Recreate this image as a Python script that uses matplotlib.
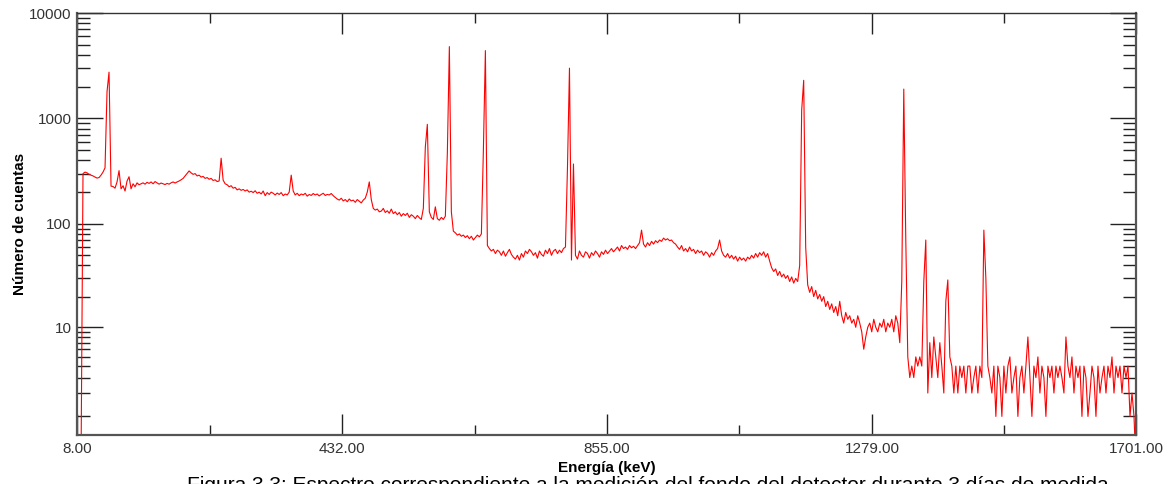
import numpy as np
import matplotlib
matplotlib.use("Agg")
import matplotlib.pyplot as plt

# energy calibration of the first / last channel (keV)
e_start, e_stop = 8.0, 1701.0

# counts per channel (channel width ~3.2 keV)
counts_a = [
    0, 0, 0, 300, 310, 305, 295, 290, 285, 278,
    272, 275, 290, 310, 340, 1800, 2750, 228, 226, 218,
    250, 320, 215, 230, 205, 255, 280, 215, 240, 225,
    245, 235, 240, 245, 238, 248, 242, 250, 240, 252,
    245, 238, 244, 240, 236, 242, 238, 245, 250, 244,
    250, 255, 262, 270, 285, 300, 318, 305, 295, 300,
    285, 290, 278, 282, 270, 275, 265, 270, 258, 262,
    252, 255, 420, 260, 240, 235, 225, 230, 218, 222,
    210, 215, 208, 212, 205, 210, 200, 204, 198, 206,
    195, 200, 192, 205, 185, 198, 190, 200, 195, 188,
]
counts_b = [
    196, 190, 198, 185, 192, 188, 200, 290, 205, 188,
    195, 185, 192, 188, 195, 183, 190, 186, 194, 188,
    192, 184, 190, 195, 186, 190, 188, 194, 185, 178,
    172, 168, 175, 165, 170, 162, 172, 165, 168, 160,
    170, 164, 158, 168, 175, 200, 250, 170, 140, 135,
    138, 130, 132, 140, 128, 133, 126, 138, 125, 130,
    122, 128, 118, 125, 120, 126, 115, 122, 118, 112,
    120, 114, 110, 140, 535, 880, 130, 115, 110, 145,
    112, 108, 115, 110, 118, 470, 4800, 130, 85, 82,
    78, 80, 76, 78, 74, 77, 72, 76, 70, 74,
]
counts_c = [
    78, 75, 80, 500, 4400, 62, 58, 55, 57, 52,
    56, 54, 50, 55, 49, 53, 57, 51, 48, 46,
    50, 45, 52, 48, 55, 52, 57, 54, 50, 53,
    47, 55, 51, 49, 56, 52, 58, 50, 55, 57,
    52, 56, 53, 58, 60, 340, 3000, 45, 370, 50,
    46, 55, 50, 48, 54, 52, 47, 53, 50, 55,
    52, 48, 54, 51, 56, 52, 55, 58, 54, 57,
    60, 55, 62, 58, 60, 57, 62, 59, 61, 58,
    62, 66, 87, 64, 60, 66, 62, 68, 64, 69,
    66, 70, 68, 73, 70, 72, 69, 70, 66, 64,
]
counts_d = [
    60, 57, 62, 55, 58, 54, 60, 55, 57, 52,
    56, 53, 55, 50, 54, 52, 48, 53, 50, 55,
    58, 70, 55, 50, 48, 52, 47, 50, 46, 49,
    44, 48, 45, 47, 44, 48, 46, 50, 47, 52,
    48, 53, 50, 54, 48, 52, 44, 38, 35, 37,
    32, 35, 31, 33, 30, 32, 28, 31, 27, 30,
    28, 40, 1200, 2300, 60, 26, 22, 25, 20, 23,
    19, 21, 18, 20, 16, 18, 15, 17, 14, 16,
    13, 18, 13, 11, 14, 12, 13, 11, 12, 10,
    13, 11, 9, 6, 8, 10, 11, 9, 12, 10,
]
counts_e = [
    9, 11, 10, 12, 9, 11, 10, 12, 9, 13,
    11, 7, 28, 1900, 70, 5, 3, 4, 3, 5,
    4, 5, 4, 28, 70, 2, 7, 3, 8, 5,
    3, 7, 4, 2, 18, 29, 5, 4, 2, 4,
    2, 4, 3, 4, 2, 4, 4, 2, 3, 4,
    2, 4, 3, 87, 30, 4, 3, 2, 4, 1,
    4, 3, 1, 4, 2, 4, 5, 2, 3, 4,
    1, 3, 4, 2, 4, 8, 3, 1, 4, 3,
    5, 2, 4, 3, 1, 4, 3, 4, 2, 4,
    3, 4, 3, 2, 8, 4, 3, 5, 2, 4,
    3, 4, 1, 4, 3, 1, 2, 4, 3, 1,
    4, 2, 3, 4, 2, 4, 3, 5, 2, 4,
    3, 4, 2, 4, 3, 4, 1, 2, 1, 0,
]

x_ticks = [8.0, 432.0, 855.0, 1279.0, 1701.0]
x_tick_labels = ["8.00", "432.00", "855.00", "1279.00", "1701.00"]
x_minor_ticks = [220.0, 643.5, 1067.0, 1490.0]
y_ticks = [10, 100, 1000, 10000]
y_tick_labels = ["10", "100", "1000", "10000"]
y_minor_ticks = [m * d for d in (1, 10, 100, 1000) for m in range(2, 10)] + [1]

counts = np.array(counts_a + counts_b + counts_c + counts_d + counts_e, dtype=float)
energy = np.linspace(e_start, e_stop, len(counts))

plt.rcParams["font.family"] = ["Liberation Sans", "DejaVu Sans"]


# the software draws log10(counts + 0.5), so zero-count channels sit just off the axis
def fwd(y):
    return np.log10(np.clip(y, 0, None) + 0.5)


def inv(t):
    return 10.0 ** t - 0.5


fig = plt.figure(figsize=(11.72, 4.84), dpi=100)
ax = fig.add_axes([77 / 1172, 49 / 484, 1059 / 1172, 422 / 484])

ax.plot(energy, counts, color="#ff0000", linewidth=0.8)

ax.set_yscale("function", functions=(fwd, inv))
ax.set_xlim(e_start, e_stop)
ax.set_ylim(0.5, 10000)

ax.set_xticks(x_ticks)
ax.set_xticklabels(x_tick_labels)
ax.set_xticks(x_minor_ticks, minor=True)
ax.set_yticks(y_ticks)
ax.set_yticklabels(y_tick_labels)
ax.set_yticks(y_minor_ticks, minor=True)

ax.tick_params(axis="both", which="both", direction="in", top=True, right=True,
               colors="#222222", labelsize=11, width=1.0)
ax.tick_params(axis="x", which="major", length=15, pad=5)
ax.tick_params(axis="x", which="minor", length=7.5)
ax.tick_params(axis="y", which="major", length=18.5, pad=4)
ax.tick_params(axis="y", which="minor", length=9.5)
ax.tick_params(axis="both", which="major", labelcolor="#333333")

for side in ["left", "bottom", "right"]:
    ax.spines[side].set_color("#555555")
    ax.spines[side].set_linewidth(1.6)
ax.spines["top"].set_color("#333333")
ax.spines["top"].set_linewidth(1.0)

fig.text(20 / 1172, 1 - 224 / 484, "Número de cuentas", rotation=90,
         ha="center", va="center", fontsize=11, fontweight="bold")
fig.text(607 / 1172, 1 - 468 / 484, "Energía (keV)",
         ha="center", va="center", fontsize=11, fontweight="bold")

# caption of the source document, cut off by the bottom edge (as in the original)
fig.text(187 / 1172, -7 / 484,
         "Figura 3.3: Espectro correspondiente a la medición del fondo del detector durante 3 días de medida",
         ha="left", va="baseline", fontsize=15)

fig.savefig("out.png", dpi=100)
